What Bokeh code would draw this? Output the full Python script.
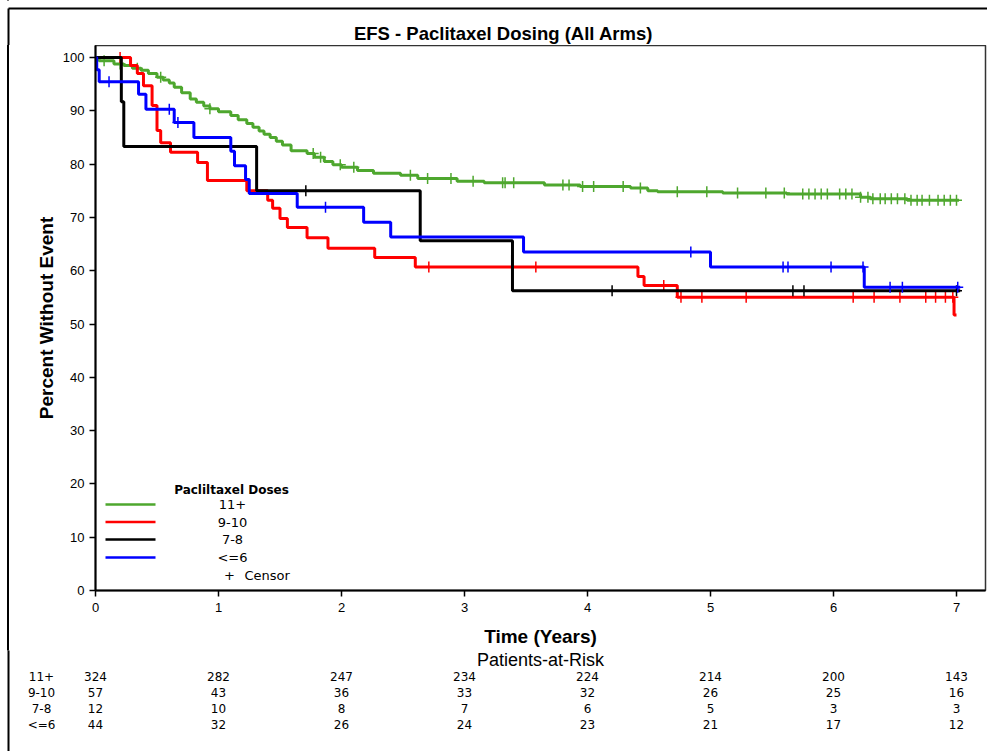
from bokeh.plotting import figure
from bokeh.layouts import column, row
from bokeh.models import Range1d, FixedTicker, Label
from bokeh.core.properties import value
from bokeh.embed import file_html
from bokeh.resources import INLINE

# ---------------- data ----------------
years = [0, 1, 2, 3, 4, 5, 6, 7]
pct_ticks = [0, 10, 20, 30, 40, 50, 60, 70, 80, 90, 100]
group_names = ["11+", "9-10", "7-8", "<=6"]

# Kaplan-Meier step data (time in years, percent without event)
t_11 = [0.00, 0.03, 0.15, 0.23, 0.30, 0.37, 0.43, 0.50, 0.55, 0.60, 0.64, 0.70, 0.77, 0.82,
        0.88, 0.93, 1.00, 1.10, 1.16, 1.23, 1.28, 1.33, 1.37, 1.42, 1.47, 1.52, 1.59, 1.72,
        1.78, 1.86, 1.93, 2.00, 2.13, 2.26, 2.48, 2.62, 2.94, 3.16, 3.65, 3.94, 4.35, 4.49,
        4.57, 5.10, 5.62, 6.22, 6.30, 6.60, 7.02]
s_11 = [100, 99.4, 98.8, 98.5, 98.0, 97.6, 97.0, 96.3, 95.8, 95.2, 94.4, 93.4, 92.2, 91.6,
        90.9, 90.4, 89.8, 89.1, 88.3, 87.6, 86.9, 86.2, 85.6, 85.0, 84.3, 83.6, 82.5, 82.0,
        81.3, 80.5, 79.9, 79.4, 78.8, 78.3, 77.9, 77.3, 76.8, 76.5, 76.1, 75.8, 75.5, 75.0,
        74.8, 74.6, 74.4, 73.8, 73.5, 73.2, 73.2]
c_11 = [0.07, 0.20, 0.34, 0.53, 0.93, 1.77, 1.83, 1.99, 2.10, 2.56, 2.70, 2.89, 3.07, 3.31,
        3.33, 3.40, 3.80, 3.85, 3.96, 4.05, 4.29, 4.43, 4.73, 4.97, 5.22, 5.45, 5.60, 5.75,
        5.80, 5.85, 5.90, 5.95, 6.05, 6.10, 6.15, 6.22, 6.28, 6.32, 6.38, 6.42, 6.47, 6.52,
        6.58, 6.63, 6.68, 6.72, 6.78, 6.85, 6.90, 6.95, 7.00]

t_910 = [0.00, 0.285, 0.34, 0.39, 0.46, 0.50, 0.53, 0.61, 0.83, 0.91, 1.23, 1.40, 1.44,
         1.50, 1.56, 1.72, 1.89, 2.27, 2.60, 4.41, 4.46, 4.73, 6.98, 7.00]
s_910 = [100, 98.5, 97.0, 94.7, 91.0, 86.3, 84.0, 82.2, 80.3, 76.9, 75.0, 73.2, 71.7,
         69.8, 68.1, 66.2, 64.2, 62.5, 60.7, 58.9, 57.2, 55.0, 51.7, 51.7]
c_910 = [0.20, 2.71, 3.58, 4.62, 4.76, 4.93, 5.29, 6.16, 6.33, 6.54, 6.75, 6.83, 6.91, 6.97]

t_78 = [0.00, 0.21, 0.23, 1.31, 2.64, 3.39, 7.03]
s_78 = [100, 91.7, 83.3, 75.0, 65.6, 56.25, 56.25]
c_78 = [1.71, 4.20, 5.67, 5.76, 7.00]

t_le6 = [0.00, 0.01, 0.03, 0.35, 0.41, 0.64, 0.80, 1.10, 1.13, 1.22, 1.25, 1.64, 2.18,
         2.40, 3.48, 5.00, 6.25, 7.03]
s_le6 = [100, 97.7, 95.45, 93.1, 90.3, 87.8, 85.0, 82.4, 79.7, 77.1, 74.5, 71.9, 69.1,
         66.3, 63.5, 60.7, 56.9, 56.9]
c_le6 = [0.11, 0.60, 0.67, 1.87, 4.84, 5.59, 5.63, 5.98, 6.24, 6.46, 6.56, 7.01]

risk_11 = [324, 282, 247, 234, 224, 214, 200, 143]
risk_910 = [57, 43, 36, 33, 32, 26, 25, 16]
risk_78 = [12, 10, 8, 7, 6, 5, 3, 3]
risk_le6 = [44, 32, 26, 24, 23, 21, 17, 12]

# ---------------- layout geometry (page pixels) ----------------
W, H = 987, 751
TOP_H = 45                 # title strip
FL, FR, FT, FB = 95, 985, 45, 590
MAIN_H = 605               # main figure: y 45 .. 650
RISK_H = H - TOP_H - MAIN_H
X0, X1 = 0.0, 7.0 * (FR - FL) / (956 - FL)
Y0, Y1 = 0.0, 100.0 * (FB - FT) / (FB - 57)
PX_PER_YEAR = (FR - FL) / (X1 - X0)


def yr(px):
    """page x pixel -> years"""
    return (px - FL) / PX_PER_YEAR


def dy(py):
    return Y0 + (FB - py) * (Y1 - Y0) / (FB - FT)


def step_at(ts, ss, t):
    idx = 0
    for i, tt in enumerate(ts):
        if tt <= t:
            idx = i
    return ss[idx]


def blank_fig(w, h, xr, yrng):
    f = figure(width=w, height=h, x_range=xr, y_range=yrng, title=None,
               min_border_left=0, min_border_right=0, min_border_top=0, min_border_bottom=0,
               output_backend="svg", toolbar_location=None)
    f.axis.visible = False
    f.grid.visible = False
    f.outline_line_color = None
    f.background_fill_color = "white"
    f.border_fill_color = "white"
    return f


FRAME_W = 2

# ---------------- title strip ----------------
ft = blank_fig(W, TOP_H, Range1d(0, W), Range1d(TOP_H, 0))
ft.segment(x0=[8, 8], y0=[8, 8], x1=[W + 5, 8], y1=[8, TOP_H + 1],
           line_color="black", line_width=FRAME_W)
ft.text(x=[503], y=[33], text=["EFS - Paclitaxel Dosing (All Arms)"],
        text_align="center", text_baseline="middle", text_font=value("Liberation Sans"),
        text_font_style="bold", text_font_size="18.5px", text_color="black")

# ---------------- main plot ----------------
p = figure(width=W, height=MAIN_H, x_range=Range1d(X0, X1), y_range=Range1d(Y0, Y1),
           title=None, min_border_left=FL, min_border_right=W - FR,
           min_border_top=0, min_border_bottom=MAIN_H - (FB - FT),
           output_backend="svg", toolbar_location=None)
p.grid.visible = False
p.outline_line_color = "#333333"
p.outline_line_width = 1.5
p.background_fill_color = "white"
p.border_fill_color = None

for ax in (p.xaxis[0], p.yaxis[0]):
    ax.axis_line_color = "black"
    ax.axis_line_width = 2
    ax.major_tick_in = 0
    ax.major_tick_out = 6
    ax.major_tick_line_color = "black"
    ax.major_tick_line_width = 1.5
    ax.minor_tick_line_color = None
    ax.major_label_text_font = "Liberation Sans"
    ax.major_label_text_font_size = "13px"
    ax.major_label_text_color = "black"
    ax.axis_label_text_font = "Liberation Sans"
    ax.axis_label_text_font_size = "19px"
    ax.axis_label_text_font_style = "bold"
    ax.axis_label_text_color = "black"

p.xaxis.ticker = FixedTicker(ticks=years)
p.yaxis.ticker = FixedTicker(ticks=pct_ticks)
p.xaxis.major_label_standoff = 6
p.yaxis.major_label_standoff = 5
p.xaxis.axis_label = "Time (Years)"
p.yaxis.axis_label = "Percent Without Event"
p.xaxis.axis_label_standoff = 11
p.yaxis.axis_label_standoff = 3

GREEN, RED, BLACK, BLUE = "#4ea72e", "#ff0000", "#000000", "#0000ff"
series = [
    (t_11, s_11, c_11, GREEN),
    (t_910, s_910, c_910, RED),
    (t_78, s_78, c_78, BLACK),
    (t_le6, s_le6, c_le6, BLUE),
]
for ts, ss, cs, col in series:
    p.step(ts, ss, mode="after", line_color=col, line_width=3)
    cy = [step_at(ts, ss, c) for c in cs]
    p.scatter(cs, cy, marker="cross", size=11, line_color=col, line_width=1.5)

# legend inside the plot
leg_cols = [GREEN, RED, BLACK, BLUE]
leg_rows_py = [504, 521.5, 539, 557]
for name, col, py in zip(group_names, leg_cols, leg_rows_py):
    p.segment(x0=yr(105), y0=dy(py), x1=yr(155), y1=dy(py), line_color=col, line_width=2.5)
    p.add_layout(Label(x=yr(232), y=dy(py), text=name, text_align="center",
                       text_baseline="middle", text_font="DejaVu Sans",
                       text_font_size="13px", text_color="black"))
p.add_layout(Label(x=yr(231), y=dy(489), text="Pacliltaxel Doses", text_align="center",
                   text_baseline="middle", text_font="DejaVu Sans", text_font_style="bold",
                   text_font_size="12px", text_color="black"))
p.add_layout(Label(x=yr(229), y=dy(575), text="+", text_align="center",
                   text_baseline="middle", text_font="DejaVu Sans",
                   text_font_size="13px", text_color="black"))
p.add_layout(Label(x=yr(244), y=dy(575), text="Censor", text_align="left",
                   text_baseline="middle", text_font="DejaVu Sans",
                   text_font_size="13px", text_color="black"))

# ---------------- patients at risk ----------------
RT = TOP_H + MAIN_H
fr = blank_fig(W, RISK_H, Range1d(yr(0), yr(W)), Range1d(H, RT))
fr.segment(x0=[yr(8)], y0=[RT - 1], x1=[yr(8)], y1=[H + 1], line_color="black",
           line_width=FRAME_W)
fr.text(x=[yr(540)], y=[659.5], text=["Patients-at-Risk"], text_align="center",
        text_baseline="middle", text_font=value("Liberation Sans"),
        text_font_size="18px", text_color="black")
risk_rows = [risk_11, risk_910, risk_78, risk_le6]
row_py = [676, 692, 708, 724]
for name, rvals, py in zip(group_names, risk_rows, row_py):
    fr.text(x=[yr(41)], y=[py], text=[name], text_align="center", text_baseline="middle",
            text_font=value("DejaVu Sans"), text_font_size="12px", text_color="black")
    fr.text(x=years, y=[py] * len(years), text=[str(n) for n in rvals],
            text_align="center", text_baseline="middle", text_font=value("DejaVu Sans"),
            text_font_size="12px", text_color="black")

# outer frame line of the page (left edge at x=8) shows through the transparent border;
# the main plot is wrapped in a row so the strips above/below keep their own full-width frames
layout = column(ft, row(p, spacing=0), fr, spacing=0, styles={
    "background": "linear-gradient(black, black) 7px 0px / 2px 100% no-repeat, white"})
open("out.html", "w").write(file_html(layout, INLINE))
